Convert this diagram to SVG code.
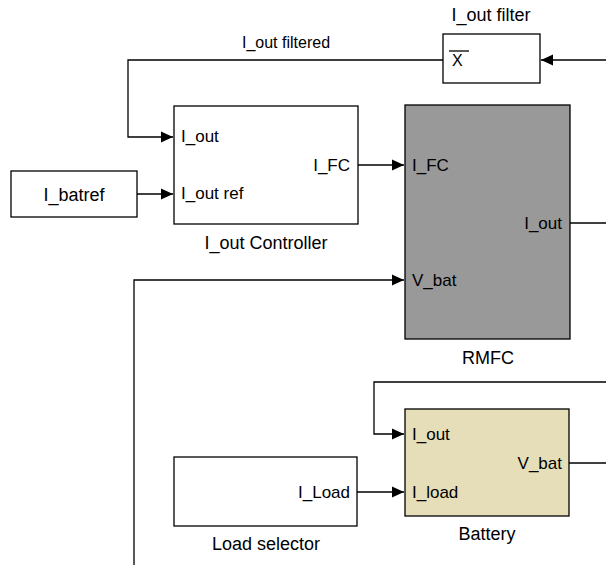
<svg xmlns="http://www.w3.org/2000/svg" width="606" height="565" viewBox="0 0 606 565">
<defs>
<style>
text{font-family:"Liberation Sans",Arial,sans-serif;font-size:18px;fill:#000}
.blk{fill:#fff;stroke:#000;stroke-width:1.3}
.w{fill:none;stroke:#000;stroke-width:1.3}
.p{font-size:17px}
.l{font-size:16px}
</style>
<marker id="ah" markerWidth="12" markerHeight="12" refX="12" refY="6" orient="auto" markerUnits="userSpaceOnUse">
<path d="M0,0.5 L12,6 L0,11.5 z" fill="#000"/>
</marker>
</defs>
<rect width="606" height="565" fill="#fff"/>
<g id="connectors">
<path class="w" d="M606,60 H541" marker-end="url(#ah)"/>
<path class="w" d="M443,60 H128 V137 H173" marker-end="url(#ah)"/>
<path class="w" d="M137,194 H173" marker-end="url(#ah)"/>
<path class="w" d="M358,165 H404" marker-end="url(#ah)"/>
<path class="w" d="M570,223 H606"/>
<path class="w" d="M134,565 V280 H404" marker-end="url(#ah)"/>
<path class="w" d="M606,382 H374 V434 H404" marker-end="url(#ah)"/>
<path class="w" d="M569,463 H606"/>
<path class="w" d="M357,492 H404" marker-end="url(#ah)"/>
<text class="l" x="286" y="48" text-anchor="middle">I_out filtered</text>
</g>
<g id="filter">
<rect class="blk" x="443" y="34" width="97" height="49"/>
<line x1="449" y1="51" x2="469" y2="51" stroke="#000" stroke-width="1.3"/>
<text x="452" y="66" style="font-size:16px">X</text>
<text x="491" y="21" text-anchor="middle">I_out filter</text>
</g>
<g id="controller">
<rect class="blk" x="174" y="106" width="184" height="118"/>
<text class="p" x="181" y="142">I_out</text>
<text class="p" x="181" y="199">I_out ref</text>
<text class="p" x="350" y="171" text-anchor="end">I_FC</text>
<text x="266" y="249" text-anchor="middle">I_out Controller</text>
</g>
<g id="batref">
<rect class="blk" x="11" y="171" width="126" height="46"/>
<text x="74" y="201" text-anchor="middle">I_batref</text>
</g>
<g id="rmfc">
<rect x="405" y="105" width="165" height="234" fill="#999" stroke="#000" stroke-width="1.3"/>
<text class="p" x="412" y="171">I_FC</text>
<text class="p" x="562" y="229" text-anchor="end">I_out</text>
<text class="p" x="412" y="286">V_bat</text>
<text x="488" y="364" text-anchor="middle">RMFC</text>
</g>
<g id="battery">
<rect x="405" y="409" width="164" height="107" fill="#e6deb8" stroke="#000" stroke-width="1.3"/>
<text class="p" x="412" y="440">I_out</text>
<text class="p" x="562" y="469" text-anchor="end">V_bat</text>
<text class="p" x="412" y="498">I_load</text>
<text x="487" y="540" text-anchor="middle">Battery</text>
</g>
<g id="load">
<rect class="blk" x="174" y="457" width="183" height="69"/>
<text class="p" x="350" y="498" text-anchor="end">I_Load</text>
<text x="266" y="550" text-anchor="middle">Load selector</text>
</g>
</svg>
